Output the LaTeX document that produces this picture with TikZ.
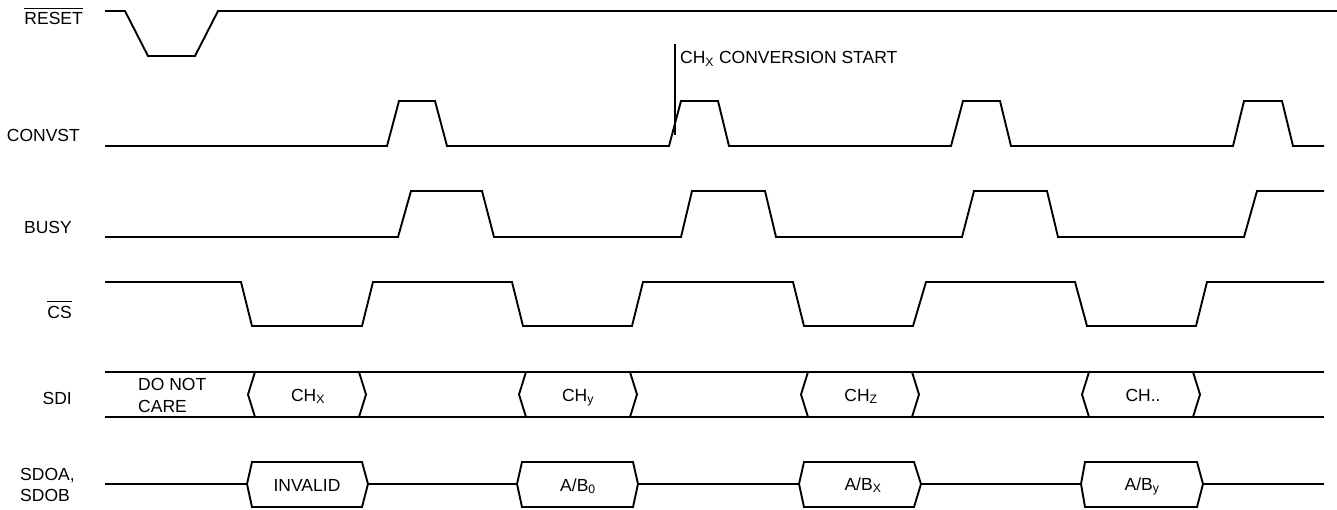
\documentclass[tikz,border=0pt]{standalone}
\usepackage{fontspec}
\setmainfont{Liberation Sans}
\newcommand\ovlbar[1]{\vbox{\hrule height 1.1pt\kern4pt\hbox{#1}}}
\begin{document}
\begin{tikzpicture}[x=1pt,y=-1pt,
  wave/.style={line width=1.9pt,line join=miter},
  lbl/.style={inner sep=0pt,font=\fontsize{17.5}{21.5}\selectfont},
  sig/.style={lbl,anchor=base east},
  fld/.style={lbl,anchor=base}]
\useasboundingbox (0,0) rectangle (1337,510);
% signal names
\node[sig] (nreset) at (83,25) {\ovlbar{RESET}};
\node[sig] (nconvst) at (80,142) {CONVST};
\node[sig] (nbusy) at (72,234) {BUSY};
\node[sig] (ncs) at (72,318) {\ovlbar{CS}};
\node[sig] (nsdi) at (72,404) {SDI};
\node[lbl,anchor=base west] (nsdoa) at (20,480) {SDOA,};
\node[lbl,anchor=base west] (nsdob) at (20,501) {SDOB};
% RESET
\draw[wave] (105,11) -- (125,11) -- (148,56) -- (195,56) -- (218,11) -- (1337,11);
% CONVST
\draw[wave] (105,146) -- (387,146) -- (399,101) -- (435,101) -- (447,146)
  -- (669,146) -- (681,101) -- (718,101) -- (729,146)
  -- (951,146) -- (963,101) -- (1000,101) -- (1011,146)
  -- (1233,146) -- (1244,101) -- (1282,101) -- (1293,146) -- (1324,146);
\coordinate (mtop) at (675,44);
\coordinate (mbot) at (675,135);
\draw[line width=1.4pt] (mtop) -- (mbot);
\node[lbl,anchor=base west] (start) at (680,64) {CH\textsubscript{X} CONVERSION START};
% BUSY
\draw[wave] (105,237) -- (398,237) -- (411,191) -- (482,191) -- (494,237)
  -- (681,237) -- (692,191) -- (765,191) -- (776,237)
  -- (962,237) -- (974,191) -- (1047,191) -- (1058,237)
  -- (1244,237) -- (1257,191) -- (1324,191);
% CS
\draw[wave] (105,282) -- (241,282) -- (252,326) -- (362,326) -- (373,282)
  -- (512,282) -- (523,326) -- (632,326) -- (643,282)
  -- (793,282) -- (804,326) -- (913,326) -- (926,282)
  -- (1075,282) -- (1087,326) -- (1196,326) -- (1207,282) -- (1324,282);
% SDI
\draw[wave] (105,372) -- (1324,372);
\draw[wave] (105,417) -- (1324,417);
\foreach \l/\r in {255/359,526/630,808/912,1089/1193}{
  \draw[wave] (\l,372) -- (\l-7,394.5) -- (\l,417);
  \draw[wave] (\r,372) -- (\r+7,394.5) -- (\r,417);
}
\node[lbl,anchor=base west] (dnc1) at (138,390) {DO NOT};
\node[lbl,anchor=base west] (dnc2) at (138,412) {CARE};
\node[fld] (chx) at (308,401) {CH\textsubscript{X}};
\node[fld] (chy) at (578,401) {CH\textsubscript{y}};
\node[fld] (chz) at (861,401) {CH\textsubscript{Z}};
\node[fld] (chd) at (1143,401) {CH..};
% SDOA/SDOB
\draw[wave] (105,484) -- (247,484) -- (252,462) -- (362,462) -- (368,484) -- (362,507) -- (252,507) -- (247,484);
\draw[wave] (368,484) -- (517,484) -- (522,462) -- (633,462) -- (638,484) -- (633,507) -- (522,507) -- (517,484);
\draw[wave] (638,484) -- (799,484) -- (804,462) -- (914,462) -- (921,484) -- (914,507) -- (804,507) -- (799,484);
\draw[wave] (921,484) -- (1081,484) -- (1085,462) -- (1197,462) -- (1203,484) -- (1197,507) -- (1085,507) -- (1081,484);
\draw[wave] (1203,484) -- (1324,484);
\node[fld] (inv) at (307,491) {INVALID};
\node[fld] (ab0) at (578,491) {A/B\textsubscript{0}};
\node[fld] (abx) at (863,490) {A/B\textsubscript{X}};
\node[fld] (aby) at (1142,490) {A/B\textsubscript{y}};
\end{tikzpicture}
\end{document}
